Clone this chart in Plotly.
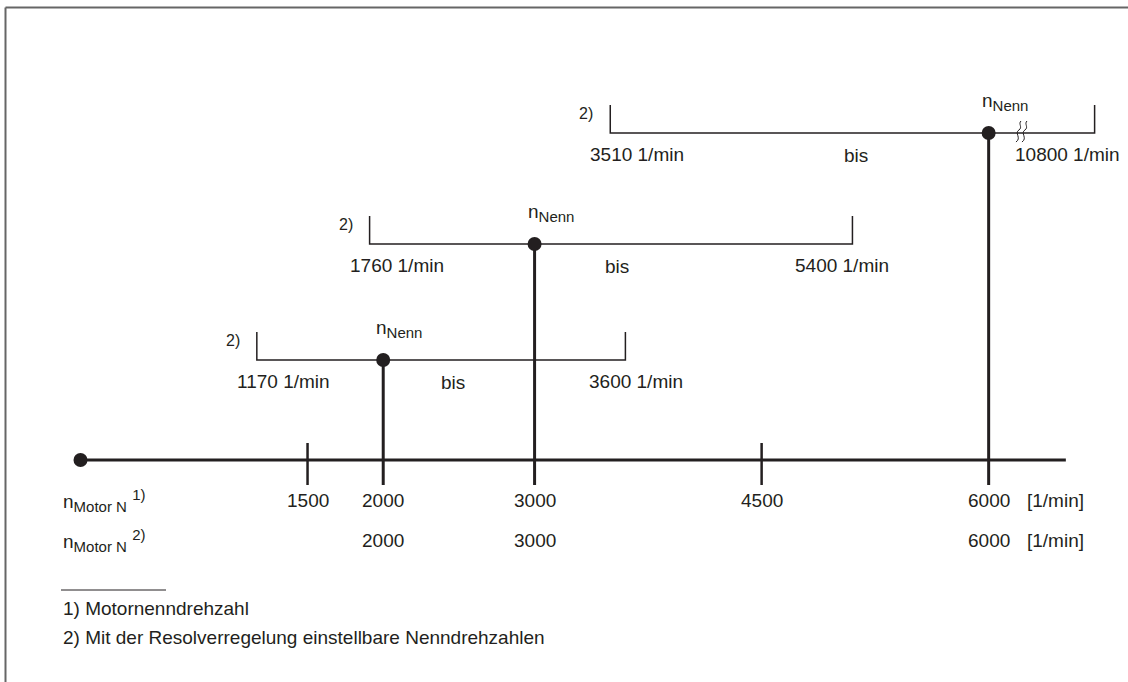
import plotly.graph_objects as go

# Drehzahlachse, Werte in 1/min
achse_ticks = [1500, 2000, 3000, 4500, 6000]
zeile1_labels = ["1500", "2000", "3000", "4500", "6000"]
zeile2_pos = [2000, 3000, 6000]
zeile2_labels = ["2000", "3000", "6000"]
achse_start = 0
achse_ende = 6510

# Nenndrehzahl und einstellbarer Bereich (Fussnote 2)
nenn_pos = [2000, 3000, 6000]
bereich_von = ["1170 1/min", "1760 1/min", "3510 1/min"]
bereich_bis = ["3600 1/min", "5400 1/min", "10800 1/min"]
# Klammern sind in der Vorlage nicht massstaeblich gezeichnet
klammer_links = [1165, 1910, 3500]
klammer_rechts = [3600, 5100, 6700]
bruch_pos = 6220

fussnoten = ["1) Motornenndrehzahl",
             "2) Mit der Resolverregelung einstellbare Nenndrehzahlen"]

# Layout: Pixel-Massstab der Achse, y in Pixeln von oben
W, H = 1128, 682
px_rpm = 0.15136
x0_px = 80.5
achse_y = 460
klammer_y = [360, 244, 133]
bis_x = [2461, 3544, 5124]
bis_label_x = [3670, 5031, 6524]
links_px = 61

ink = "#231f20"
font = dict(family="Liberation Sans, Arial, sans-serif", size=19, color=ink)
SUB = '<sub><span style="font-size:15px">{}</span></sub>'
SUP = '<sup><span style="font-size:15px">{}</span></sup>'

fig = go.Figure()

# Hauptachse
fig.add_trace(go.Scatter(x=[achse_start, achse_ende], y=[achse_y, achse_y], mode="lines",
                         line=dict(color=ink, width=3)))
fig.add_trace(go.Scatter(x=[achse_start], y=[achse_y], mode="markers",
                         marker=dict(color=ink, size=14)))

# kurze Teilstriche (ohne Nenndrehzahl)
tx, ty = [], []
for t in achse_ticks:
    if t not in nenn_pos:
        tx += [t, t, None]
        ty += [achse_y - 17, achse_y + 25, None]
fig.add_trace(go.Scatter(x=tx, y=ty, mode="lines", line=dict(color=ink, width=2.5)))

# Klammern, Stiele und Punkte
for i, p in enumerate(nenn_pos):
    yk = klammer_y[i]
    fig.add_trace(go.Scatter(x=[klammer_links[i], klammer_links[i], klammer_rechts[i], klammer_rechts[i]],
                             y=[yk - 28, yk, yk, yk - 28], mode="lines",
                             line=dict(color=ink, width=1.5)))
    fig.add_trace(go.Scatter(x=[p, p], y=[yk, achse_y + 25], mode="lines",
                             line=dict(color=ink, width=3)))
    fig.add_trace(go.Scatter(x=[p], y=[yk], mode="markers",
                             marker=dict(color=ink, size=14)))
    fig.add_annotation(x=p, y=yk - 31, text="n" + SUB.format("Nenn"), xshift=16)
    fig.add_annotation(x=klammer_links[i], y=yk - 20, text="2)", xanchor="right", xshift=-15,
                       font=dict(family=font["family"], size=16, color=ink))
    fig.add_annotation(x=klammer_links[i], y=yk + 21, text=bereich_von[i], xanchor="left", xshift=-22)
    fig.add_annotation(x=bis_x[i], y=yk + 22, text="bis")
    fig.add_annotation(x=bis_label_x[i], y=yk + 21, text=bereich_bis[i])

# Bruchzeichen im oberen Bereich
for dx in (-3, 3):
    fig.add_shape(type="path", xref="x", yref="y", xsizemode="pixel", ysizemode="pixel",
                  xanchor=bruch_pos, yanchor=klammer_y[2],
                  path=f"M {dx - 3},-9 C {dx + 3},-5 {dx - 5},0 {dx},3 C {dx + 4},6 {dx - 1},9 {dx + 2},12",
                  line=dict(color=ink, width=1))

# Beschriftung unter der Achse
for t, lab in zip(achse_ticks, zeile1_labels):
    fig.add_annotation(x=t, y=500, text=lab)
for t, lab in zip(zeile2_pos, zeile2_labels):
    fig.add_annotation(x=t, y=540, text=lab)
for yy in (500, 540):
    fig.add_annotation(x=6000, y=yy, text="[1/min]", xanchor="left", xshift=36)
for yy, fn in ((500, "1)"), (540, "2)")):
    fig.add_annotation(x=links_px / W, xref="paper", y=yy, xanchor="left",
                       text="n" + SUB.format("Motor N") + " " + SUP.format(fn))

# Fussnoten
fig.add_shape(type="line", xref="paper", yref="y", x0=links_px / W, x1=166 / W, y0=590, y1=590,
              line=dict(color=ink, width=1))
for k, txt in enumerate(fussnoten):
    fig.add_annotation(x=links_px / W, xref="paper", y=608 + 29 * k, text=txt, xanchor="left")

# Rahmen links und oben
fig.add_shape(type="line", xref="paper", yref="paper", x0=5.5 / W, x1=1, y0=1 - 7.5 / H, y1=1 - 7.5 / H,
              line=dict(color="#666666", width=2))
fig.add_shape(type="line", xref="paper", yref="paper", x0=5.5 / W, x1=5.5 / W, y0=0, y1=1 - 7.5 / H,
              line=dict(color="#666666", width=2))

fig.update_annotations(showarrow=False, yanchor="middle")
for a in fig.layout.annotations:
    if a.text != "2)":
        a.font = font

fig.update_layout(
    width=W, height=H, showlegend=False,
    margin=dict(l=0, r=0, t=0, b=0),
    paper_bgcolor="white", plot_bgcolor="white",
    xaxis=dict(range=[-x0_px / px_rpm, (W - x0_px) / px_rpm], visible=False, fixedrange=True),
    yaxis=dict(range=[H, 0], visible=False, fixedrange=True),
)

fig.write_html("out.html", config={"displayModeBar": False},
               post_script="document.body.style.margin='0px';")
